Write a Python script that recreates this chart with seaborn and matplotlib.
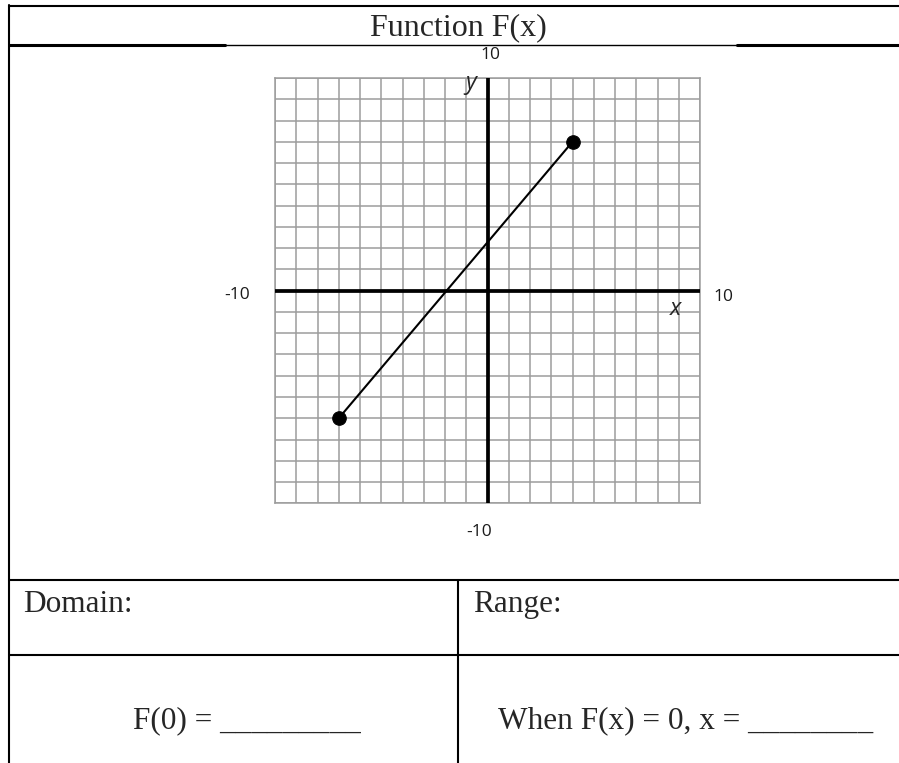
import matplotlib
matplotlib.use("Agg")
import matplotlib.pyplot as plt
import seaborn as sns
import pandas as pd

# data
end_x = [-7, 4]
end_y = [-6, 7]
grid_ticks = list(range(-10, 11))
axis_labels = ["10", "-10", "-10", "10"]   # top, bottom, left, right
title = "Function F(x)"
cell_texts = ["Domain:", "Range:", "F(0) = _________", "When F(x) = 0, x = ________"]

sns.set_style("white")
plt.rcParams["font.family"] = ["Liberation Serif", "DejaVu Serif"]

W, H = 899, 763
fig = plt.figure(figsize=(W / 100, H / 100), dpi=100)
fig.patch.set_facecolor("white")

# table frame in pixel coordinates
bg = fig.add_axes([0, 0, 1, 1])
bg.set_xlim(0, W)
bg.set_ylim(H, 0)
bg.axis("off")
lw = 1.5
bg.plot([8.5, W], [5.7, 5.7], color="black", lw=lw)
bg.plot([8.5, 225], [44.7, 44.7], color="black", lw=2.2)
bg.plot([225, 737], [44.7, 44.7], color="black", lw=1.0)
bg.plot([737, W], [44.7, 44.7], color="black", lw=2.2)
bg.plot([8.5, 8.5], [5, H], color="black", lw=lw)
bg.plot([8.5, W], [580, 580], color="black", lw=lw)
bg.plot([8.5, W], [655, 655], color="black", lw=lw)
bg.plot([457.5, 457.5], [580, H], color="black", lw=lw)

fs = 22.5
bg.text(458, 35, title, ha="center", va="baseline", fontsize=23)
bg.text(23, 612, cell_texts[0], ha="left", va="baseline", fontsize=fs)
bg.text(473, 612, cell_texts[1], ha="left", va="baseline", fontsize=fs)
bg.text(133, 728, cell_texts[2], ha="left", va="baseline", fontsize=fs)
bg.text(498, 728, cell_texts[3], ha="left", va="baseline", fontsize=fs)

# graph
left, right, top, bottom = 275, 700, 78, 503.3
ax = fig.add_axes([left / W, (H - bottom) / H, (right - left) / W, (bottom - top) / H])
ax.set_xlim(-10, 10)
ax.set_ylim(-10, 10)
ax.set_xticks(grid_ticks)
ax.set_yticks(grid_ticks)
ax.tick_params(length=0, labelbottom=False, labelleft=False)
ax.grid(True, color="#9c9c9c", lw=1.1)
for s in ax.spines.values():
    s.set_color("#9c9c9c")
    s.set_linewidth(1.1)
ax.set_facecolor("white")
ax.axhline(0, color="black", lw=2.7, zorder=3)
ax.axvline(0, color="black", lw=2.7, zorder=3)

df = pd.DataFrame({"x": end_x, "y": end_y})
sns.lineplot(data=df, x="x", y="y", color="black", lw=1.5, ax=ax, zorder=4)
sns.scatterplot(data=df, x="x", y="y", color="black", s=95, edgecolor="black", ax=ax, zorder=5)
ax.set_xlabel("")
ax.set_ylabel("")

sans = ["Open Sans", "DejaVu Sans"]
lab_kw = dict(ha="center", va="center", fontsize=12.5, family=sans, clip_on=False, color="#1a1a1a")
ax.text(0.15, 11.1, axis_labels[0], **lab_kw)
ax.text(-0.4, -11.35, axis_labels[1], **lab_kw)
ax.text(-11.8, -0.2, axis_labels[2], **lab_kw)
ax.text(11.1, -0.3, axis_labels[3], **lab_kw)
ax.text(-0.8, 9.75, "y", ha="center", va="center", fontsize=17, style="italic", family=sans, clip_on=False)
ax.text(8.84, -0.87, "x", ha="center", va="center", fontsize=17, style="italic", family=sans, clip_on=False)

fig.savefig("out.png", dpi=100, facecolor="white")
